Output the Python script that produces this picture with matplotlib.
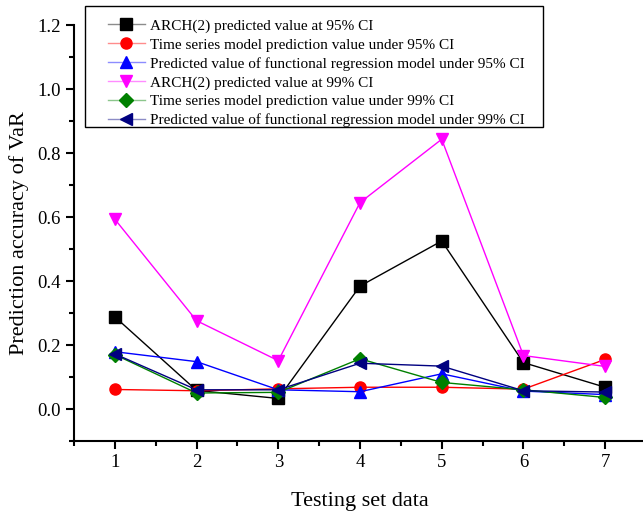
import numpy as np
import matplotlib.pyplot as plt
from matplotlib.ticker import MultipleLocator
from matplotlib.patches import Rectangle
from matplotlib.colors import to_rgb

plt.rcParams['font.family'] = ['Liberation Serif', 'DejaVu Serif']

test_sets = [1, 2, 3, 4, 5, 6, 7]

arch_95 = [0.288, 0.058, 0.033, 0.384, 0.525, 0.145, 0.068]
ts_95 = [0.061, 0.057, 0.063, 0.068, 0.068, 0.062, 0.155]
fr_95 = [0.179, 0.148, 0.060, 0.054, 0.110, 0.056, 0.045]
arch_99 = [0.593, 0.276, 0.151, 0.645, 0.843, 0.167, 0.133]
ts_99 = [0.170, 0.050, 0.052, 0.157, 0.083, 0.060, 0.036]
fr_99 = [0.172, 0.060, 0.060, 0.143, 0.134, 0.057, 0.053]

series = [
    (arch_95, "ARCH(2) predicted value at 95% CI", "black", "s"),
    (ts_95, "Time series model prediction value under 95% CI", "red", "o"),
    (fr_95, "Predicted value of functional regression model under 95% CI", "blue", "^"),
    (arch_99, "ARCH(2) predicted value at 99% CI", "magenta", "v"),
    (ts_99, "Time series model prediction value under 99% CI", "green", "D"),
    (fr_99, "Predicted value of functional regression model under 99% CI", "navy", "<"),
]

W, H = 643, 511
fig = plt.figure(figsize=(W / 100, H / 100), dpi=100)
ax = fig.add_axes([74 / W, 70 / H, 572 / W, 416 / H])

for values, label, color, marker in series:
    ms = 7 if marker == "D" else 8
    ax.plot(test_sets, values, color=color, marker=marker, markersize=ms,
            linewidth=1, label=label)

ax.set_xlim(0.5, 7.5)
ax.set_ylim(-0.1, 1.2)
ax.xaxis.set_major_locator(MultipleLocator(1))
ax.xaxis.set_minor_locator(MultipleLocator(0.5))
ax.yaxis.set_major_locator(MultipleLocator(0.2))
ax.yaxis.set_minor_locator(MultipleLocator(0.1))
ax.yaxis.set_major_formatter(plt.FormatStrFormatter('%.1f'))

for side in ["top", "right"]:
    ax.spines[side].set_visible(False)
for side in ["left", "bottom"]:
    ax.spines[side].set_linewidth(1.5)

ax.tick_params(which="major", direction="out", length=6, width=1.5,
               labelsize=13.5)
ax.tick_params(which="minor", direction="out", length=3.5, width=1.5)

ax.set_xlabel("Testing set data", fontsize=16, labelpad=15)
ax.set_ylabel("Prediction accuracy of VaR", fontsize=16, labelpad=6)

# legend without its own frame; the box is drawn separately
leg = ax.legend(loc="upper left", bbox_to_anchor=(108 / W, 1 - 19 / H),
                bbox_transform=fig.transFigure, borderaxespad=0,
                fontsize=11, frameon=False, borderpad=0,
                handlelength=2.4, handletextpad=0.35, labelspacing=0.335)
for line in leg.get_lines():
    base = to_rgb(line.get_color())
    line.set_markerfacecolor(base)
    line.set_markeredgecolor(base)
    line.set_color(tuple(0.45 * c + 0.55 for c in base))

fig.patches.append(Rectangle((85 / W, 1 - 127 / H), 458 / W, 121 / H,
                             transform=fig.transFigure, fill=False,
                             edgecolor="black", linewidth=1))

fig.savefig("out.png", dpi=100)
